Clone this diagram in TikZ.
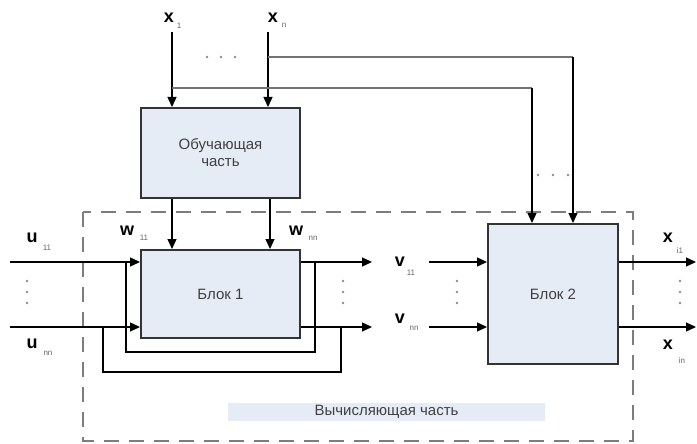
\documentclass[tikz,border=0pt]{standalone}
\usepackage{fontspec}
\setmainfont{Liberation Sans}
\usepackage{xcolor}
\usetikzlibrary{arrows.meta, positioning, calc}
\definecolor{boxfill}{RGB}{230,236,246}
\definecolor{framegray}{RGB}{125,125,125}

\begin{document}
\begin{tikzpicture}[x=1pt, y=-1pt,
    blok/.style={draw=black!80, line width=2pt, fill=boxfill, inner sep=0pt,
        text=black!75, font=\fontsize{15}{17}\selectfont, align=center},
    lbl/.style={inner sep=0pt, font=\bfseries\fontsize{18}{18}\selectfont},
    sub/.style={inner sep=0pt, text=black!60, font=\fontsize{8}{8}\selectfont},
    arr/.style={-{Triangle[length=10pt,width=9pt]}, line width=1.3pt},
    wire/.style={line width=1.3pt},
    bus/.style={line width=2.5pt, draw=black!55},
    dot/.style={circle, fill=black!45, inner sep=0pt, minimum size=2.6pt}]
    \useasboundingbox (0,0) rectangle (697,444);

    % computing part frame
    \draw[framegray, line width=2.2pt, dash pattern=on 15pt off 10pt] (83,212) rectangle (633,441);
    \node[fill=boxfill, minimum width=317pt, minimum height=18pt, inner sep=0pt,
        text=black!75, font=\fontsize{15}{17}\selectfont] (calc) at (386.5,412) {Вычисляющая часть};

    % blocks
    \node[blok, minimum width=159pt, minimum height=90pt] (learn) at (220.5,153) {Обучающая\\часть};
    \node[blok, minimum width=159pt, minimum height=88pt] (blok1) at (220.5,294) {Блок 1};
    \node[blok, minimum width=130pt, minimum height=140pt] (blok2) at (553,294) {Блок 2};

    % labels
    \node[lbl] (x1) at (169,18) {x};   \node[sub] (x1s) at (179,26) {1};
    \node[lbl] (xn) at (273,18) {x};   \node[sub] (xns) at (284,25) {n};
    \node[lbl] (u1) at (32,238) {u};   \node[sub] (u1s) at (47,248) {11};
    \node[lbl] (un) at (32,344) {u};   \node[sub] (uns) at (48,353) {nn};
    \node[lbl] (w1) at (127,231) {w};  \node[sub] (w1s) at (144,238) {11};
    \node[lbl] (wn) at (296,231) {w};  \node[sub] (wns) at (313,238) {nn};
    \node[lbl] (v1) at (400,262) {v};  \node[sub] (v1s) at (411,273) {11};
    \node[lbl] (vn) at (400,319) {v};  \node[sub] (vns) at (414,328) {nn};
    \node[lbl] (y1) at (668,238) {x};  \node[sub] (y1s) at (680,251) {i1};
    \node[lbl] (yn) at (668,345) {x};  \node[sub] (yns) at (682,361) {in};

    % inputs of the learning part
    \coordinate (in1) at (172,32);
    \coordinate (inn) at (268,32);
    \coordinate (b1) at (532,88);
    \coordinate (b2) at (573,57);
    \draw[arr] (in1) -- (in1 |- learn.north);
    \draw[arr] (inn) -- (inn |- learn.north);
    \draw[bus] (in1 |- b1) -- (b1);
    \draw[bus] (inn |- b2) -- (b2);
    \draw[arr] (b1) -- (b1 |- blok2.north);
    \draw[arr] (b2) -- (b2 |- blok2.north);
    \draw[arr] (in1 |- learn.south) -- (in1 |- blok1.north);
    \draw[arr] ([xshift=2pt]inn |- learn.south) -- ([xshift=2pt]inn |- blok1.north);

    % block 1
    \coordinate (ua) at (10,262);
    \coordinate (ub) at (10,327);
    \coordinate (oa) at (372,262);
    \coordinate (ob) at (372,327);
    \draw[arr] (ua) -- (ua -| blok1.west);
    \draw[arr] (ub) -- (ub -| blok1.west);
    \draw[arr] (oa -| blok1.east) -- (oa);
    \draw[arr] (ob -| blok1.east) -- (ob);

    % feedback loops
    \coordinate (fa) at (315,352);
    \coordinate (fb) at (126,352);
    \coordinate (ga) at (341,372);
    \coordinate (gb) at (103,372);
    \draw[wire] (fa |- oa) -- (fa) -- (fb) -- (fb |- ua);
    \draw[wire] (ga |- ob) -- (ga) -- (gb) -- (gb |- ub);

    % block 2
    \coordinate (ia) at (429,262);
    \coordinate (ib) at (429,327);
    \coordinate (ea) at (696,262);
    \coordinate (eb) at (696,327);
    \draw[arr] (ia) -- (ia -| blok2.west);
    \draw[arr] (ib) -- (ib -| blok2.west);
    \draw[arr] (ea -| blok2.east) -- (ea);
    \draw[arr] (eb -| blok2.east) -- (eb);

    % dots
    \foreach \dx in {27, 343, 457, 680}
        \foreach \dy in {281, 292, 303}
            \node[dot] at (\dx,\dy) {};
    \foreach \dx in {207, 221, 235}
        \node[dot] at (\dx,57) {};
    \foreach \dx in {538, 553, 568}
        \node[dot] at (\dx,175) {};
\end{tikzpicture}
\end{document}
